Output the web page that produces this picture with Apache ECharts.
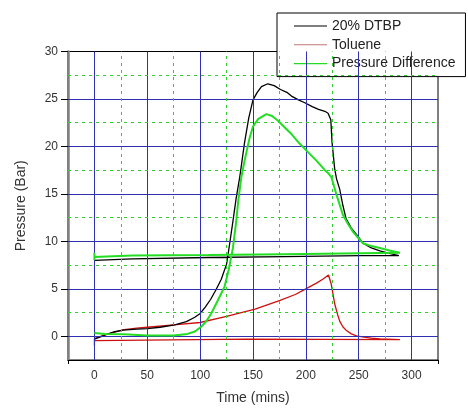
<!DOCTYPE html>
<html>
<head>
<meta charset="utf-8">
<script src="https://cdn.jsdelivr.net/npm/echarts@6/dist/echarts.min.js"></script>
<style>
  html, body { margin: 0; padding: 0; background: #fff; }
  #main { width: 468px; height: 410px; }
</style>
</head>
<body>
<div id="main"></div>
<script>
// 数据: [time (mins), pressure (bar)]，每条曲线末尾回到 t=0 的那段水平线也保留
var dtbp = [
  [0, -0.3], [5, -0.1], [10, 0.15], [18, 0.45], [27, 0.65], [40, 0.75], [50, 0.8],
  [62, 0.95], [76, 1.2], [87, 1.55], [95, 2.0], [100, 2.4], [105, 3.1], [110, 3.9],
  [115, 4.9], [120, 6.0], [125, 7.6], [128, 9.8], [131, 12.1], [134, 14.5],
  [137.5, 16.8], [140, 18.8], [142, 20.4], [146, 23.0], [150, 24.9], [154, 25.7],
  [158, 26.3], [164, 26.6], [170, 26.4], [176, 26.0], [182, 25.7], [186.4, 25.3],
  [193, 24.9], [199, 24.6], [206, 24.2], [212, 23.9], [218, 23.7], [221, 23.5],
  [223.6, 22.8], [224.8, 20.4], [227.3, 17.6], [229, 16.6], [232, 15.5],
  [235, 13.8], [238, 12.4], [243, 11.4], [248, 10.7], [254, 9.8], [262, 9.3],
  [270, 9.0], [280, 8.7], [288, 8.5],
  [288, 8.5], [252, 8.5], [252, 8.4], [180, 8.4], [180, 8.3], [108, 8.3],
  [108, 8.15], [36, 8.15], [36, 8.0], [0, 8.0]
];
var toluene = [
  [0, -1.0], [0, -0.25], [5, -0.05], [12, 0.2], [20, 0.45], [28, 0.7], [40, 0.85],
  [50, 0.95], [75, 1.2], [100, 1.45], [125, 2.1], [152, 2.85], [175, 3.75],
  [190, 4.4], [200, 5.0], [210, 5.6], [216, 6.0], [221.4, 6.45], [224, 5.5],
  [227.3, 3.4], [230, 2.3], [232, 1.6], [235, 1.0], [238.4, 0.6], [243, 0.25],
  [248, 0.05], [255, -0.1], [262, -0.2], [270, -0.28], [289, -0.35],
  [289, -0.3], [144, -0.3], [144, -0.4], [0, -0.45]
];
var pressureDiff = [
  [0, 0.35], [10, 0.25], [28, 0.2], [50, 0.07], [75, 0.07], [88, 0.25], [95, 0.5],
  [101, 1.0], [106, 1.6], [110.5, 2.4], [116.8, 3.8], [123, 5.2], [127, 7.0],
  [131, 9.3], [134, 12.0], [136, 14.2], [139, 16.8], [141.5, 18.2], [143.8, 19.4],
  [147, 21.0], [150, 22.1], [155, 22.9], [162.7, 23.4], [168, 23.2], [173.7, 22.7],
  [180, 22.0], [186.4, 21.3], [194, 20.3], [202, 19.4], [210, 18.5], [218, 17.5],
  [221, 17.2], [224, 16.8], [229, 14.9], [235, 12.8], [240, 11.8], [244.7, 11.0],
  [250, 10.3], [254, 9.8], [262, 9.5], [270, 9.3], [280, 9.0], [289, 8.8],
  [289, 8.75], [252, 8.75], [252, 8.65], [180, 8.65], [180, 8.55], [108, 8.55],
  [108, 8.5], [36, 8.5], [36, 8.35], [0, 8.35], [0, 8.8], [0, 8.0]
];

var seriesNames = ['20% DTBP', 'Toluene', 'Pressure Difference'];
var xLabels = [0, 50, 100, 150, 200, 250, 300];
var yLabels = [0, 5, 10, 15, 20, 25, 30];
var xMinorGrid = [25, 75, 125, 175, 225, 275];
var yMinorGrid = [2.5, 7.5, 12.5, 17.5, 22.5, 27.5];

var font = "'Liberation Sans', Arial, sans-serif";

var majorLines = [];
xLabels.forEach(function (v) { majorLines.push({ xAxis: v }); });
yLabels.filter(function (v) { return v < 30; }).forEach(function (v) { majorLines.push({ yAxis: v }); });
var minorLines = [];
xMinorGrid.forEach(function (v) { minorLines.push({ xAxis: v }); });
yMinorGrid.forEach(function (v) { minorLines.push({ yAxis: v }); });

// 图例只画一条细线
var lineIcon = 'path://M0,0 H40 V1.3 H0 Z';

var myChart = echarts.init(document.getElementById('main'));
var option = {
  animation: false,
  backgroundColor: '#fff',
  grid: {
    left: 68, top: 51.5, right: 30, bottom: 47,
    show: true, borderColor: '#000', borderWidth: 1
  },
  legend: {
    data: seriesNames.map(function (n) { return { name: n, icon: lineIcon }; }),
    orient: 'vertical',
    left: 277, top: 13,
    padding: [6, 10, 6, 17],
    itemWidth: 33, itemHeight: 14, itemGap: 4.8,
    symbolKeepAspect: true,
    backgroundColor: '#fff', borderColor: '#000', borderWidth: 1,
    textStyle: { fontFamily: font, fontSize: 14, color: '#222' }
  },
  xAxis: {
    type: 'value', min: -25, max: 325,
    name: 'Time (mins)', nameLocation: 'middle', nameGap: 31,
    nameTextStyle: { fontFamily: font, fontSize: 14, color: '#333' },
    axisLine: { onZero: false, lineStyle: { color: '#000', width: 1 } },
    axisTick: { customValues: [-25, 325], length: 4, lineStyle: { color: '#000' } },
    axisLabel: { customValues: xLabels, margin: 10, fontFamily: font, fontSize: 12, color: '#333' },
    splitLine: { show: false }
  },
  yAxis: {
    type: 'value', min: -2.5, max: 30,
    name: 'Pressure (Bar)', nameLocation: 'middle', nameGap: 40, nameRotate: 90,
    nameTextStyle: { fontFamily: font, fontSize: 14, color: '#333' },
    axisLine: { show: true, onZero: false, lineStyle: { color: '#808080', width: 2.5 } },
    axisTick: { customValues: yLabels, length: 7, lineStyle: { color: '#000' } },
    axisLabel: { customValues: yLabels, margin: 10, fontFamily: font, fontSize: 12, color: '#333' },
    splitLine: { show: false }
  },
  series: [
    {
      name: 'majorGrid', type: 'line', data: [], z: 1, silent: true,
      markLine: {
        silent: true, symbol: ['none', 'none'], label: { show: false },
        lineStyle: { color: '#3030b0', width: 1, type: 'solid' },
        data: majorLines
      }
    },
    {
      name: 'minorGrid', type: 'line', data: [], z: 1, silent: true,
      markLine: {
        silent: true, symbol: ['none', 'none'], label: { show: false },
        lineStyle: { color: '#33cc33', width: 1, type: [3, 4] },
        data: minorLines
      }
    },
    {
      name: '20% DTBP', type: 'line', data: dtbp, z: 4,
      symbol: 'none', smooth: false,
      lineStyle: { color: '#000', width: 1.3 }, itemStyle: { color: '#000' }
    },
    {
      name: 'Toluene', type: 'line', data: toluene, z: 3,
      symbol: 'none',
      lineStyle: { color: '#cc1010', width: 1.3 }, itemStyle: { color: '#c07878' }
    },
    {
      name: 'Pressure Difference', type: 'line', data: pressureDiff, z: 5,
      symbol: 'none',
      lineStyle: { color: '#22dd22', width: 2 }, itemStyle: { color: '#22dd22' }
    }
  ]
};
myChart.setOption(option);
</script>
</body>
</html>
